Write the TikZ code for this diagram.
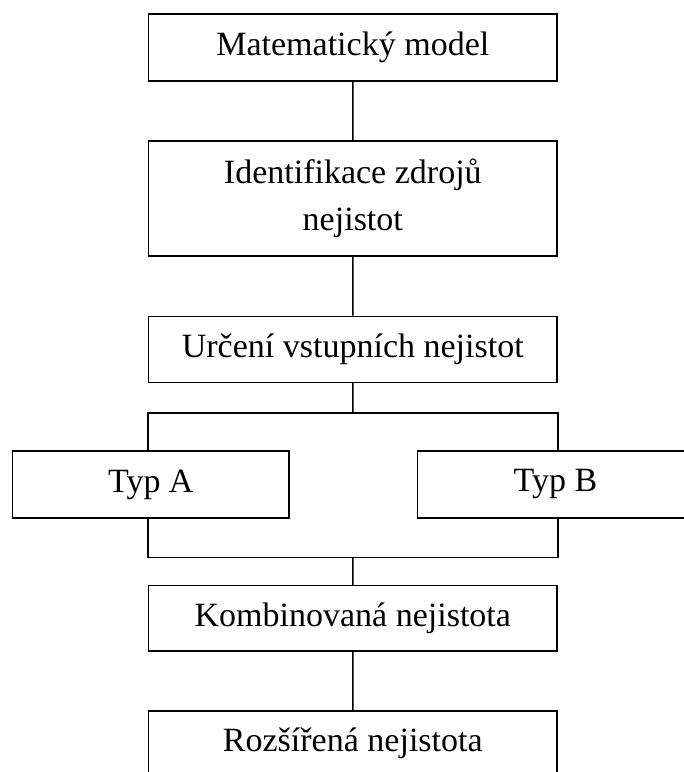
\documentclass[tikz,border=0pt]{standalone}
\usepackage{fontspec}
\setmainfont{Liberation Serif}
\usepackage{tikz}

\begin{document}
\begin{tikzpicture}[scale=0.2]
\tikzstyle{every node}+=[inner sep=0pt]
\tikzstyle{box}=[draw=black, line width=0.85pt, minimum width=8.17cm, minimum height=1.34cm, align=center, font=\fontsize{19.35pt}{26.7pt}\selectfont]
\tikzstyle{typbox}=[box, minimum width=5.53cm]
\tikzstyle{link}=[black, line width=0.85pt]
\path [use as bounding box, clip] (0,0) rectangle (68.4,-77.2);
% main column
\node [box] (model) at (35.28,-4.75) {Matematický model};
\node [box, minimum height=2.3cm] (zdroje) at (35.28,-19.85) {Identifikace zdrojů\\nejistot};
\node [box, minimum height=1.32cm] (vstupy) at (35.28,-34.95) {Určení vstupních nejistot};
\node [typbox] (typa) at (15.08,-48.45) {Typ A};
\node [typbox] (typb) at (55.55,-48.45) {Typ B};
\node [box, minimum height=1.31cm] (komb) at (35.28,-61.84) {Kombinovaná nejistota};
\node [box, minimum height=1.3cm] (rozs) at (35.28,-74.35) {Rozšířená nejistota};
\coordinate (split) at (35.28,-41.3);
\coordinate (join) at (35.28,-55.75);
% connectors
\draw [link] (model) -- (zdroje);
\draw [link] (zdroje) -- (vstupy);
\draw [link] (vstupy) -- (split);
\draw [link] (typa.north -| vstupy.south west) |- (split) -| (typb.north -| vstupy.south east);
\draw [link] (typa.south -| komb.north west) |- (join) -| (typb.south -| komb.north east);
\draw [link] (join) -- (komb);
\draw [link] (komb) -- (rozs);
\end{tikzpicture}
\end{document}
